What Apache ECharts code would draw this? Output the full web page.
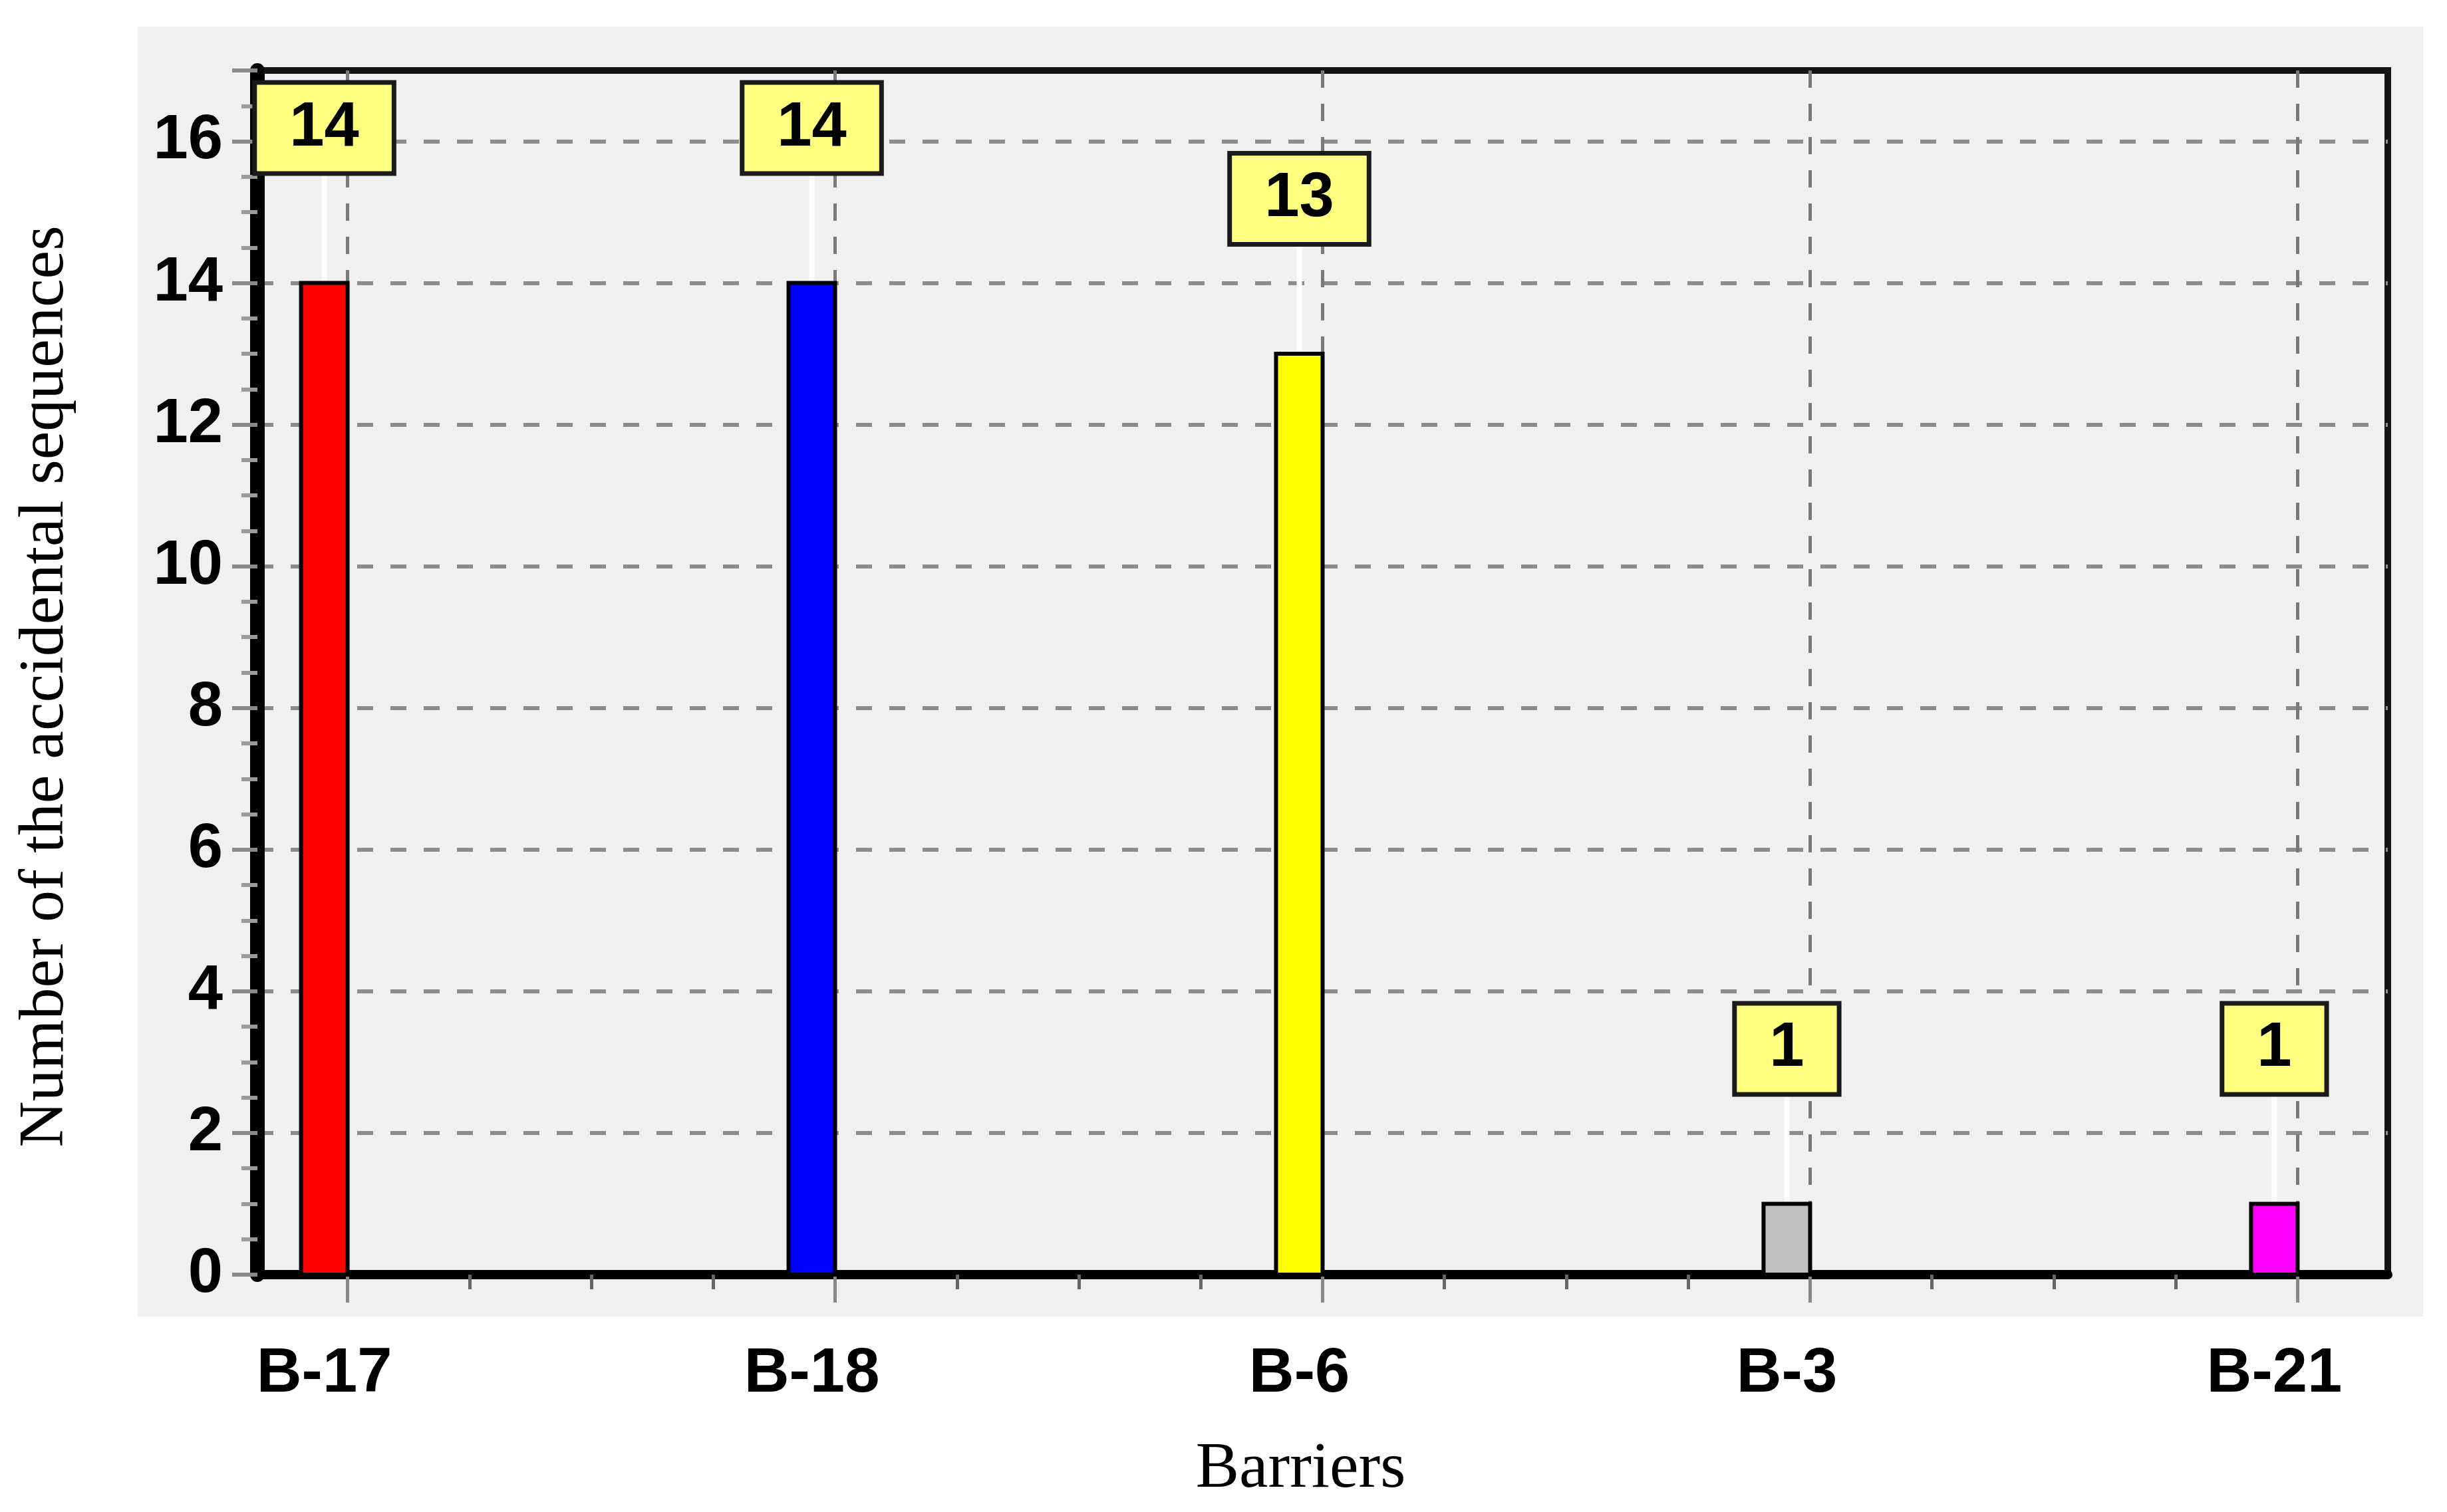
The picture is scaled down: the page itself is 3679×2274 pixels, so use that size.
<!DOCTYPE html>
<html lang="en">
<head>
<meta charset="UTF-8">
<title>Barriers</title>
<script src="https://cdn.jsdelivr.net/npm/echarts@6/dist/echarts.min.js"></script>
<style>
    body { margin: 0; background: #fff; }
</style>
</head>
<body>
<div id="main" style="width: 3679px; height: 2274px;"></div>
<script>
var barriers = ['B-17', 'B-18', 'B-6', 'B-3', 'B-21'];
var sequences = [14, 14, 13, 1, 1];
var barColors = ['#ff0000', '#0000ff', '#ffff00', '#c0c0c0', '#ff00ff'];
var yMin = 0, yMax = 17, yStep = 2;

var seqData = [];
for (var i = 0; i < barriers.length; i++) {
    seqData.push([i, sequences[i]]);
}

// frame of the plot, in px
var W = 3679, H = 2274;
var frameLeft = 387, frameRight = 3590, frameTop = 106, frameBottom = 1917;
var xPad = 0.185; // frame goes a bit past the first and last barrier
var unit = (frameRight - frameLeft) / (barriers.length - 1 + 2 * xPad);
var catLeft = frameLeft + xPad * unit;
var catRight = frameRight - xPad * unit;

var barW = 70, labelGap = 168;
var sans = '"Liberation Sans", Arial, sans-serif';
var serif = '"Liberation Serif", "Times New Roman", serif';

var myChart = echarts.init(document.getElementById('main'));
var option = {
    backgroundColor: '#ffffff',
    animation: false,
    graphic: [{
        type: 'rect',
        z: -100,
        silent: true,
        shape: { x: 207, y: 40, width: 3436, height: 1940 },
        style: { fill: '#f0f0f0' }
    }],
    grid: [
        {
            left: frameLeft, right: W - frameRight, top: frameTop, bottom: H - frameBottom,
            show: true, backgroundColor: '#f0f0f0', borderColor: '#151515', borderWidth: 10
        },
        {
            left: catLeft, right: W - catRight, top: frameTop, bottom: H - frameBottom,
            show: false
        }
    ],
    xAxis: [
        {
            gridIndex: 0,
            type: 'value',
            min: -xPad,
            max: barriers.length - 1 + xPad,
            axisLine: { onZero: false, lineStyle: { color: '#000', width: 14 } },
            axisTick: { show: false },
            axisLabel: { show: false },
            splitLine: { show: false },
            name: 'Barriers',
            nameLocation: 'middle',
            nameGap: 244,
            nameTextStyle: { fontFamily: serif, fontSize: 98, color: '#000', padding: [0, 66, 0, 0] }
        },
        {
            gridIndex: 1,
            type: 'value',
            min: 0,
            max: barriers.length - 1,
            interval: 1,
            axisLine: { show: false, onZero: false },
            axisTick: { show: true, length: 42, lineStyle: { color: '#888', width: 5 } },
            minorTick: { show: true, splitNumber: 4, length: 22, lineStyle: { color: '#666', width: 5 } },
            axisLabel: {
                margin: 103,
                fontFamily: sans, fontWeight: 'bold', fontSize: 94, color: '#000',
                padding: [0, barW, 0, 0],
                formatter: function (v) { return barriers[v] || ''; }
            },
            splitLine: { show: true, lineStyle: { color: '#7a7a7a', width: 5, type: [26, 24] } }
        }
    ],
    yAxis: [
        {
            gridIndex: 0,
            type: 'value',
            min: yMin,
            max: yMax,
            interval: yStep,
            axisLine: { show: true, onZero: false, lineStyle: { color: '#000', width: 22 } },
            axisTick: { show: true, length: 38, lineStyle: { color: '#8a8a8a', width: 6 } },
            minorTick: { show: true, splitNumber: 4, length: 24, lineStyle: { color: '#9a9a9a', width: 6 } },
            axisLabel: {
                margin: 52, showMaxLabel: false,
                fontFamily: sans, fontWeight: 'bold', fontSize: 94, color: '#000'
            },
            splitLine: {
                show: true, showMaxLine: false, showMinLine: false,
                lineStyle: { color: '#8c8c8c', width: 6, type: [24, 26] }
            },
            name: 'Number of the accidental sequences',
            nameLocation: 'middle',
            nameRotate: 90,
            nameGap: 270,
            nameTextStyle: { fontFamily: serif, fontSize: 96, color: '#000', padding: [0, 42, 0, 0] }
        },
        {
            gridIndex: 1,
            type: 'value',
            min: yMin,
            max: yMax,
            show: false,
            axisLine: { show: false, onZero: false },
            axisTick: { show: false },
            axisLabel: { show: false },
            splitLine: { show: false }
        }
    ],
    series: [{
        type: 'custom',
        xAxisIndex: 0,
        yAxisIndex: 0,
        data: seqData,
        encode: { x: 0, y: 1 },
        renderItem: function (params, api) {
            var x = api.value(0), v = api.value(1);
            var top = api.coord([x, v]);
            var base = api.coord([x, 0]);
            var right = top[0];
            var cx = right - barW / 2;
            var boxBottom = top[1] - labelGap;
            return {
                type: 'group',
                children: [
                    {
                        type: 'rect',
                        shape: { x: right - barW, y: top[1], width: barW, height: base[1] - top[1] },
                        style: { fill: barColors[params.dataIndex], stroke: '#000', lineWidth: 6 }
                    },
                    {
                        type: 'line',
                        shape: { x1: cx, y1: boxBottom, x2: cx, y2: top[1] - 4 },
                        style: { stroke: '#ffffff', lineWidth: 8 }
                    },
                    {
                        type: 'text',
                        x: cx,
                        y: boxBottom,
                        style: {
                            text: String(v),
                            fontFamily: sans, fontWeight: 'bold', fontSize: 94,
                            fill: '#000',
                            align: 'center', verticalAlign: 'bottom',
                            lineHeight: 98,
                            backgroundColor: '#ffff80',
                            borderColor: '#1a1a1a', borderWidth: 7,
                            padding: [16, 49]
                        }
                    }
                ]
            };
        }
    }]
};
myChart.setOption(option);
</script>
</body>
</html>
